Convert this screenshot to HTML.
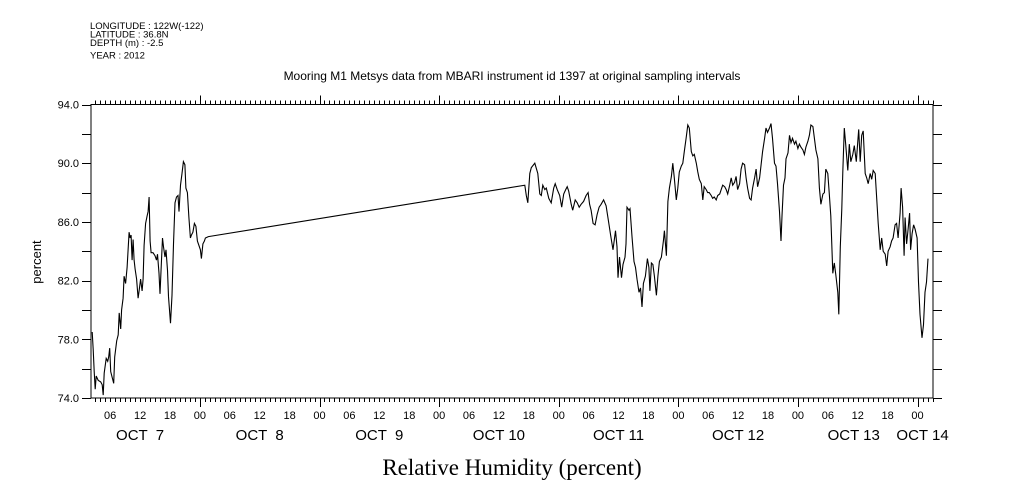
<!DOCTYPE html>
<html><head><meta charset="utf-8"><style>
body{margin:0;background:#fff;}
svg{display:block;font-family:"Liberation Sans",sans-serif;}
</style></head><body>
<svg id="chart" width="1009" height="504" viewBox="0 0 1009 504" xmlns="http://www.w3.org/2000/svg">
<g font-size="9.5" fill="#000">
<text x="90" y="29">LONGITUDE : 122W(-122)</text>
<text x="90" y="37.5">LATITUDE : 36.8N</text>
<text x="90" y="46">DEPTH (m) : -2.5</text>
<text x="90" y="58.5">YEAR : 2012</text>
</g>
<text x="512" y="80" font-size="12" text-anchor="middle">Mooring M1 Metsys data from MBARI instrument id 1397 at original sampling intervals</text>
<text x="41" y="262" font-size="13" text-anchor="middle" transform="rotate(-90 41 262)">percent</text>
<text x="512" y="475" font-size="23" font-family="Liberation Serif, serif" text-anchor="middle">Relative Humidity (percent)</text>
<g id="axes"></g>
<path id="series" fill="none" stroke="#000" stroke-width="1.1"/>
</svg>
<script>
const hours=[2.4,2.6,2.8,3.0,3.2,3.6,4.1,4.4,4.6,4.8,5.2,5.5,5.7,5.9,6.1,6.4,6.7,6.9,7.3,7.6,7.8,8.1,8.3,8.6,8.8,9.1,9.4,9.8,10.0,10.2,10.4,10.6,10.8,11.0,11.3,11.6,11.8,12.1,12.4,12.6,12.8,13.1,13.4,13.6,13.8,14.0,14.2,14.6,15.0,15.3,15.5,15.8,16.0,16.3,16.5,16.7,17.0,17.2,17.5,17.7,18.1,18.4,18.7,19.0,19.3,19.6,19.8,20.1,20.4,20.7,21.0,21.2,21.5,21.8,22.1,22.3,22.6,22.9,23.2,23.5,23.7,24.1,24.3,24.6,24.9,25.1,25.7,
89.2,89.5,89.8,90.2,90.5,91.2,91.8,92.2,92.5,92.8,93.2,93.5,94.0,94.5,95.0,95.3,95.7,96.2,96.6,97.0,97.4,97.7,98.0,98.5,98.8,99.3,99.7,100.1,100.5,101.0,101.5,101.9,102.2,102.5,102.9,103.3,103.7,104.1,104.5,105.0,105.5,106.0,106.4,106.9,107.4,107.7,107.9,108.2,108.6,108.9,109.3,109.5,109.7,110.1,110.3,110.7,111.1,111.4,111.7,112.1,112.4,112.7,113.0,113.4,113.8,114.1,114.3,114.6,114.9,115.2,115.6,115.9,116.2,116.6,117.0,117.2,117.6,117.9,118.2,118.6,118.9,119.2,119.6,119.9,120.2,120.6,120.9,121.2,121.6,121.9,122.2,122.6,122.9,123.2,123.6,123.9,124.2,124.6,124.9,125.2,125.6,125.9,126.2,126.6,126.9,127.2,127.6,127.9,128.3,128.6,128.9,129.3,129.6,129.9,130.3,130.6,130.9,131.3,131.6,131.9,132.3,132.6,132.9,133.3,133.6,133.9,134.3,134.6,134.9,135.3,135.6,135.9,136.3,136.6,136.9,137.3,137.6,137.9,138.3,138.6,138.9,139.3,139.6,139.9,140.3,140.6,140.8,141.1,141.4,141.6,142.0,142.3,142.6,142.9,143.3,143.6,144.0,144.3,144.6,145.0,145.3,145.6,146.0,146.3,146.6,147.0,147.3,147.6,148.0,148.3,148.6,149.0,149.3,149.6,150.0,150.3,150.6,151.0,151.3,151.6,152.0,152.2,152.5,152.8,153.0,153.3,153.6,154.0,154.3,154.6,155.0,155.3,155.7,156.0,156.2,156.5,156.8,157.1,157.5,157.8,158.1,158.5,158.8,159.1,159.5,159.8,160.1,160.5,160.8,161.1,161.5,161.8,162.1,162.5,162.8,163.1,163.5,163.8,164.1,164.5,164.7,165.0,165.3,165.5,165.8,166.1,166.4,166.6,166.9,167.2,167.5,167.9,168.2,168.5,168.9,169.2,169.5,169.8,170.1];
const humidity=[78.5,77.3,75.8,74.6,75.5,75.2,75.1,74.9,74.2,75.7,76.7,76.5,76.8,77.4,75.8,75.4,75.0,76.8,77.9,78.3,79.8,78.7,80.0,80.8,82.3,81.8,82.9,85.3,84.9,85.1,83.4,84.8,83.4,82.8,82.1,80.8,81.3,82.1,81.3,82.1,84.4,85.9,86.4,86.7,87.7,84.7,83.9,83.9,83.7,83.4,83.8,82.5,81.1,83.4,84.9,84.3,83.6,84.1,82.7,80.9,79.1,81.0,84.5,87.3,87.7,87.8,86.7,88.5,89.3,90.1,89.9,88.3,88.0,86.3,84.9,85.1,85.3,85.9,85.7,84.7,84.5,84.1,83.5,84.5,84.7,84.9,85.0,
88.5,87.8,87.3,89.3,89.7,90.0,89.3,87.9,87.8,88.5,88.2,88.3,87.6,87.3,88.3,88.6,88.2,87.8,87.0,87.9,88.2,88.4,88.1,87.2,86.8,87.5,87.3,87.0,87.2,87.4,87.8,88.0,87.2,86.8,85.9,85.8,86.5,87.0,87.2,87.5,87.1,86.0,85.1,84.1,85.4,84.3,82.2,83.6,82.2,83.1,83.6,84.5,87.0,86.8,86.9,85.0,83.3,82.9,82.1,81.2,81.5,80.2,81.8,82.3,83.5,82.9,81.3,83.2,83.1,82.3,81.0,82.3,83.3,83.6,84.7,85.4,83.7,87.4,88.3,89.1,90.0,89.0,87.5,88.3,89.4,89.8,90.0,90.8,91.8,92.6,92.4,90.8,90.5,90.6,90.0,89.4,88.9,88.6,87.5,88.4,88.2,88.0,88.0,87.8,87.6,87.7,87.5,87.8,87.9,88.2,88.5,88.4,88.2,87.9,88.5,89.0,88.5,88.7,89.1,88.2,88.6,89.6,90.0,89.9,89.0,88.3,87.6,87.5,88.3,89.0,89.6,88.4,89.0,89.9,90.8,91.7,92.4,92.1,92.4,92.7,91.7,90.0,89.8,88.6,86.7,84.7,86.4,88.5,89.0,90.3,90.7,91.9,91.4,91.7,91.3,91.5,91.0,91.3,91.1,90.9,90.6,91.1,91.5,91.9,92.6,92.5,91.7,90.9,90.3,88.3,87.2,87.9,88.0,89.6,89.3,87.9,86.4,82.5,83.2,82.4,81.2,79.7,84.3,86.9,89.4,92.4,91.2,89.5,91.3,90.1,90.6,91.2,90.1,91.4,92.3,90.1,91.9,92.2,89.3,89.0,88.6,89.3,88.9,89.5,89.3,87.6,85.9,84.1,84.9,84.0,83.8,83.0,84.0,84.3,84.7,84.9,85.8,85.9,84.9,86.6,88.3,87.0,83.7,86.3,84.5,85.5,86.6,84.1,85.2,85.8,85.5,84.9,81.9,79.7,78.1,79.0,81.2,81.9,83.5];
const yTickLabels=["74.0","78.0","82.0","86.0","90.0","94.0"];
const hourLabels=["06","12","18","00"];
const dayLabels=["OCT  7","OCT  8","OCT  9","OCT 10","OCT 11","OCT 12","OCT 13","OCT 14"];

const X0=91,X1=933,Y0=398,Y1=104.5,HMIN=2.15,HMAX=171.1,VMIN=74,VMAX=94;
function xs(h){return X0+(h-HMIN)/(HMAX-HMIN)*(X1-X0);}
function ys(v){return Y0-(v-VMIN)/(VMAX-VMIN)*(Y0-Y1);}
const NS="http://www.w3.org/2000/svg";
const ax=document.getElementById('axes');
function mk(tag,attrs){const e=document.createElementNS(NS,tag);for(const k in attrs)e.setAttribute(k,attrs[k]);ax.appendChild(e);return e;}
const fr=mk('rect',{x:X0,y:Y1,width:X1-X0,height:Y0-Y1,fill:'none',stroke:'#000','stroke-width':1});


let tp='';
for(let h=3;h<=HMAX;h++){
  const x=Math.round(xs(h))+0.5;
  const big=h%24===0;
  const len=big?9:4;
  tp+=`M${x},${Y1}V${Y1-len}M${x},${Y0}V${Y0+len}`;
}
for(let v=VMIN;v<=VMAX;v+=2){
  const y=Math.round(ys(v))+0.5;
  tp+=`M${X0},${y}H${X0-9}M${X1},${y}H${X1+9}`;
}
const tk=mk('path',{d:tp,stroke:'#000','stroke-width':1,fill:'none'});


yTickLabels.forEach(s=>{
  const t=mk('text',{x:X0-12,y:ys(parseFloat(s))+4,'font-size':11,'text-anchor':'end'});
  t.textContent=s;
  
  
});
for(let h=6;h<=168;h+=6){
  const t=mk('text',{x:xs(h),y:419,'font-size':11,'text-anchor':'middle'});
  t.textContent=hourLabels[(h/6-1)%4];
  
  
}
dayLabels.forEach((s,i)=>{
  let c=i<7?xs(i*24+12):xs(168)+5;
  if(i===6)c-=4;
  const t=mk('text',{x:c,y:440,'font-size':15,'text-anchor':'middle'});
  t.setAttribute('style','white-space:pre');
  t.textContent=s;
  
  
});
let d='';
for(let i=0;i<hours.length;i++){d+=(i?'L':'M')+xs(hours[i]).toFixed(1)+','+ys(humidity[i]).toFixed(1);}
document.getElementById('series').setAttribute('d',d);
</script>
</body></html>
